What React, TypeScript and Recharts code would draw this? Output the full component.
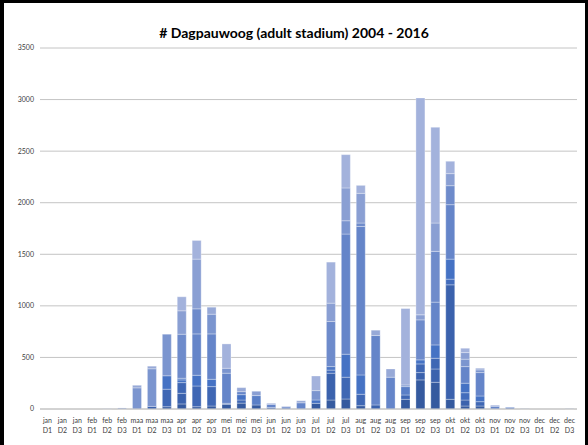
import { BarChart, Bar, XAxis, YAxis, CartesianGrid } from 'recharts';

const months = [
  'jan', 'jan', 'jan', 'feb', 'feb', 'feb', 'maa', 'maa', 'maa', 'apr', 'apr', 'apr',
  'mei', 'mei', 'mei', 'jun', 'jun', 'jun', 'jul', 'jul', 'jul', 'aug', 'aug', 'aug',
  'sep', 'sep', 'sep', 'okt', 'okt', 'okt', 'nov', 'nov', 'nov', 'dec', 'dec', 'dec',
];
const decades = [
  'D1', 'D2', 'D3', 'D1', 'D2', 'D3', 'D1', 'D2', 'D3', 'D1', 'D2', 'D3',
  'D1', 'D2', 'D3', 'D1', 'D2', 'D3', 'D1', 'D2', 'D3', 'D1', 'D2', 'D3',
  'D1', 'D2', 'D3', 'D1', 'D2', 'D3', 'D1', 'D2', 'D3', 'D1', 'D2', 'D3',
];

// counts per year, one value per decade (bottom of the stack = 2004)
const y2004 = [0, 0, 0, 0, 0, 0, 0, 0, 22, 49, 22, 29, 45, 57, 39, 0, 0, 0, 55, 87, 97, 32, 0, 0, 94, 282, 259, 94, 29, 29, 0, 0, 2, 0, 0, 2];
const y2005 = [0, 0, 0, 0, 0, 0, 0, 25, 0, 103, 0, 0, 0, 0, 0, 0, 0, 0, 0, 260, 0, 0, 39, 0, 0, 71, 129, 1110, 58, 0, 0, 0, 0, 0, 0, 0];
const y2006 = [0, 0, 0, 0, 0, 0, 0, 0, 170, 104, 201, 188, 10, 30, 0, 15, 0, 0, 0, 0, 211, 111, 0, 0, 42, 84, 104, 0, 0, 42, 0, 0, 0, 0, 0, 0];
const y2007 = [0, 0, 0, 0, 0, 0, 0, 0, 0, 0, 0, 0, 0, 0, 0, 0, 0, 0, 0, 30, 0, 0, 0, 0, 0, 0, 0, 55, 71, 0, 0, 0, 0, 0, 0, 0];
const y2008 = [0, 0, 0, 0, 0, 0, 0, 0, 130, 26, 104, 71, 0, 52, 0, 0, 0, 0, 32, 0, 223, 187, 0, 0, 0, 39, 129, 194, 92, 55, 0, 0, 0, 0, 0, 0];
const y2009 = [0, 0, 0, 0, 0, 0, 0, 0, 0, 16, 0, 0, 0, 0, 0, 0, 0, 0, 0, 34, 0, 0, 0, 0, 0, 0, 0, 0, 0, 0, 0, 0, 0, 0, 0, 0];
const y2010 = [0, 0, 0, 0, 0, 0, 0, 0, 0, 0, 0, 0, 0, 0, 91, 0, 0, 0, 0, 0, 0, 0, 0, 0, 81, 0, 0, 0, 0, 0, 0, 0, 0, 0, 0, 0];
const y2011 = [0, 0, 0, 0, 2, 0, 0, 0, 0, 0, 401, 440, 292, 29, 0, 30, 20, 60, 0, 0, 1165, 1440, 673, 308, 0, 0, 415, 528, 161, 227, 26, 16, 0, 0, 0, 0];
const y2012 = [0, 0, 0, 0, 0, 0, 0, 0, 0, 427, 243, 0, 0, 0, 0, 0, 0, 0, 0, 437, 0, 33, 0, 0, 0, 388, 492, 184, 0, 0, 0, 0, 0, 0, 0, 0];
const y2013 = [0, 0, 0, 0, 0, 0, 205, 365, 403, 0, 0, 191, 48, 0, 0, 0, 0, 0, 91, 0, 129, 0, 0, 0, 16, 0, 0, 0, 72, 26, 0, 0, 0, 0, 0, 0];
const y2014 = [0, 0, 0, 0, 0, 10, 0, 0, 0, 227, 482, 0, 0, 0, 42, 0, 5, 0, 0, 178, 318, 288, 0, 0, 0, 49, 275, 117, 64, 0, 10, 0, 0, 0, 0, 0];
const y2015 = [0, 0, 0, 0, 0, 0, 25, 25, 0, 0, 0, 68, 0, 39, 0, 10, 0, 20, 0, 0, 0, 0, 52, 80, 0, 0, 0, 0, 0, 16, 0, 0, 0, 0, 0, 0];
const y2016 = [0, 0, 0, 0, 0, 0, 0, 0, 0, 136, 181, 0, 236, 0, 0, 0, 0, 0, 142, 398, 323, 77, 0, 0, 741, 2103, 928, 120, 42, 0, 0, 0, 0, 0, 0, 0];

const yTicks = [0, 500, 1000, 1500, 2000, 2500, 3000, 3500];

const series = [
  { key: '2004', values: y2004, color: '#355a9f' },
  { key: '2005', values: y2005, color: '#3b62ad' },
  { key: '2006', values: y2006, color: '#3f67b4' },
  { key: '2007', values: y2007, color: '#426cbc' },
  { key: '2008', values: y2008, color: '#4572c4' },
  { key: '2009', values: y2009, color: '#4f78c5' },
  { key: '2010', values: y2010, color: '#5a7fc7' },
  { key: '2011', values: y2011, color: '#6585c9' },
  { key: '2012', values: y2012, color: '#6e8bcb' },
  { key: '2013', values: y2013, color: '#7b95cf' },
  { key: '2014', values: y2014, color: '#8a9fd3' },
  { key: '2015', values: y2015, color: '#97a9d7' },
  { key: '2016', values: y2016, color: '#a3b2dc' },
];

const data = months.map((m, i) => {
  const row: Record<string, string | number> = { label: `${m} ${decades[i]}` };
  series.forEach(s => {
    row[s.key] = s.values[i];
  });
  return row;
});

const FONT = 'Lato, "Noto Sans", sans-serif';

function DecadeTick({ x, y, payload }: any) {
  const i = payload.index;
  return (
    <text x={x} y={y} textAnchor="middle" fill="#404040" fontSize={7} fontFamily={FONT}>
      <tspan x={x} dy={6}>{months[i]}</tspan>
      <tspan x={x} dy={10}>{decades[i]}</tspan>
    </text>
  );
}

export default function App() {
  return (
    <div
      style={{
        position: 'fixed',
        left: 0,
        top: 0,
        width: 588,
        height: 445,
        background: '#fff',
        boxSizing: 'border-box',
        borderLeft: '4px solid #000',
        borderTop: '3px solid #000',
        borderRight: '3px solid #000',
      }}
    >
      <div
        style={{
          position: 'absolute',
          left: -4,
          top: 21,
          width: 588,
          textAlign: 'center',
          fontFamily: FONT,
          fontWeight: 700,
          fontSize: 14,
          color: '#000',
        }}
      >
        # Dagpauwoog (adult stadium) 2004 - 2016
      </div>
      <div style={{ position: 'absolute', left: -4, top: -3 }}>
        <BarChart
          width={588}
          height={445}
          data={data}
          margin={{ top: 48, right: 11, left: 8, bottom: 6 }}
          barSize={9}
        >
          <CartesianGrid vertical={false} stroke="#c4c4c4" strokeWidth={1} />
          <XAxis
            dataKey="label"
            interval={0}
            tick={<DecadeTick />}
            tickLine={false}
            axisLine={{ stroke: '#c4c4c4' }}
            height={30}
          />
          <YAxis
            domain={[0, 3500]}
            ticks={yTicks}
            tick={{ fill: '#404040', fontSize: 7, fontFamily: FONT }}
            tickLine={false}
            axisLine={false}
            tickSize={0}
            tickMargin={6}
            width={32}
          />
          {series.map(s => (
            <Bar
              key={s.key}
              dataKey={s.key}
              stackId="a"
              fill={s.color}
              stroke="rgba(255,255,255,0.5)"
              strokeWidth={0.6}
              isAnimationActive={false}
            />
          ))}
        </BarChart>
      </div>
    </div>
  );
}
